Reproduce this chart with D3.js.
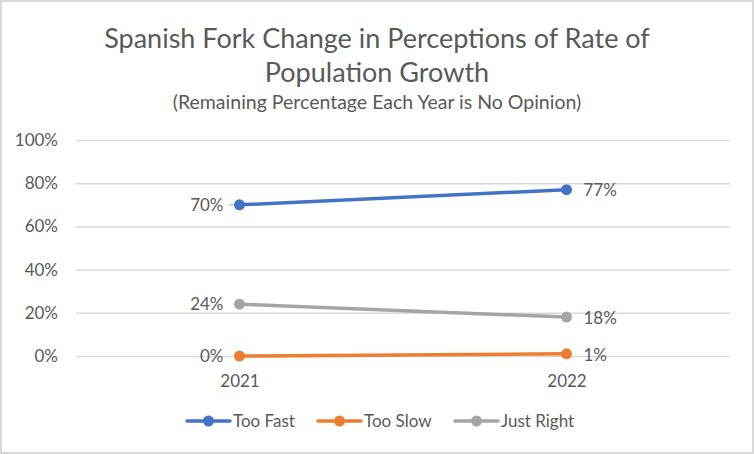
<!DOCTYPE html>
<html lang="en">
<head>
<meta charset="UTF-8">
<title>Spanish Fork Change in Perceptions</title>
<script src="https://d3js.org/d3.v7.min.js"></script>
<style>
  body { margin: 0; background: #fff; }
  svg text { font-family: Lato, "Open Sans", sans-serif; fill: #595959; }
</style>
</head>
<body>
<div id="chart"></div>
<script>
// data
const years = ["2021", "2022"];
const tooFast = [70, 77];
const tooSlow = [0, 1];
const justRight = [24, 18];
const seriesNames = ["Too Fast", "Too Slow", "Just Right"];
const seriesColors = ["#4472C4", "#ED7D31", "#A5A5A5"];
const yTicks = [0, 20, 40, 60, 80, 100];

const width = 754, height = 454;
const margin = { top: 140, right: 24, bottom: 98, left: 76 };
const fs = 17;

const svg = d3.select("#chart").append("svg")
    .attr("width", width)
    .attr("height", height);

// chart border
svg.append("rect")
    .attr("x", 1).attr("y", 1)
    .attr("width", width - 2).attr("height", height - 2)
    .attr("fill", "#fff")
    .attr("stroke", "#d9d9d9")
    .attr("stroke-width", 2);

// title
svg.append("text")
    .attr("x", 377).attr("y", 48)
    .attr("text-anchor", "middle")
    .attr("font-size", 27)
    .text("Spanish Fork Change in Perceptions of Rate of");
svg.append("text")
    .attr("x", 377).attr("y", 82)
    .attr("text-anchor", "middle")
    .attr("font-size", 27)
    .text("Population Growth");
svg.append("text")
    .attr("x", 377).attr("y", 109)
    .attr("text-anchor", "middle")
    .attr("font-size", 19.5)
    .text("(Remaining Percentage Each Year is No Opinion)");

const x = d3.scalePoint()
    .domain(years)
    .range([margin.left, width - margin.right])
    .padding(0.5);

const y = d3.scaleLinear()
    .domain([0, 100])
    .range([height - margin.bottom, margin.top]);

// gridlines
const yAxis = svg.append("g")
    .attr("transform", `translate(${margin.left},0)`)
    .call(d3.axisLeft(y)
        .tickValues(yTicks)
        .tickSize(-(width - margin.left - margin.right))
        .tickFormat(d => d + "%"));
yAxis.select(".domain").remove();
yAxis.selectAll(".tick line").attr("stroke", "#d9d9d9").attr("stroke-width", 1.5);
yAxis.selectAll(".tick text")
    .attr("x", -18)
    .attr("font-size", fs);

const xAxis = svg.append("g")
    .attr("transform", `translate(0,${height - margin.bottom})`)
    .call(d3.axisBottom(x).tickSize(0));
xAxis.select(".domain").remove();
xAxis.selectAll(".tick text")
    .attr("dy", 0)
    .attr("y", 31)
    .attr("font-size", fs);

const series = [tooFast, tooSlow, justRight].map((vals, i) => ({
    name: seriesNames[i],
    color: seriesColors[i],
    values: vals.map((v, j) => ({ year: years[j], value: v }))
}));

// leader line for the 70% label
svg.append("line")
    .attr("x1", 229).attr("x2", 239)
    .attr("y1", y(tooFast[0])).attr("y2", y(tooFast[0]))
    .attr("stroke", "#a5a5a5").attr("stroke-width", 1);

const line = d3.line()
    .x(d => x(d.year))
    .y(d => y(d.value));

// draw in order: just right, too slow, too fast (blue on top)
const order = [2, 1, 0];
order.forEach(i => {
    const s = series[i];
    svg.append("path")
        .datum(s.values)
        .attr("d", line)
        .attr("fill", "none")
        .attr("stroke", s.color)
        .attr("stroke-width", 3.5)
        .attr("stroke-linecap", "round");
    svg.selectAll(null)
        .data(s.values)
        .join("circle")
        .attr("cx", d => x(d.year))
        .attr("cy", d => y(d.value))
        .attr("r", 5.5)
        .attr("fill", s.color);
});

// data labels: left of 2021 points, right of 2022 points
series.forEach(s => {
    svg.selectAll(null)
        .data(s.values)
        .join("text")
        .attr("x", (d, j) => j === 0 ? x(d.year) - 16 : x(d.year) + 17)
        .attr("y", (d, j) => y(d.value) + (j === 1 && s.name !== "Too Fast" ? 7 : 6))
        .attr("text-anchor", (d, j) => j === 0 ? "end" : "start")
        .attr("font-size", fs)
        .text(d => d.value + "%");
});

// legend
const legendX = [187, 318, 455];
const legend = svg.append("g").selectAll("g")
    .data(series)
    .join("g")
    .attr("transform", (d, i) => `translate(${legendX[i]},421)`);
legend.append("line")
    .attr("x1", 0).attr("x2", 43)
    .attr("stroke", d => d.color)
    .attr("stroke-width", 3.5)
    .attr("stroke-linecap", "round");
legend.append("circle")
    .attr("cx", 21.5).attr("r", 5.5)
    .attr("fill", d => d.color);
legend.append("text")
    .attr("x", 46).attr("y", 6)
    .attr("font-size", fs)
    .text(d => d.name);
</script>
</body>
</html>
